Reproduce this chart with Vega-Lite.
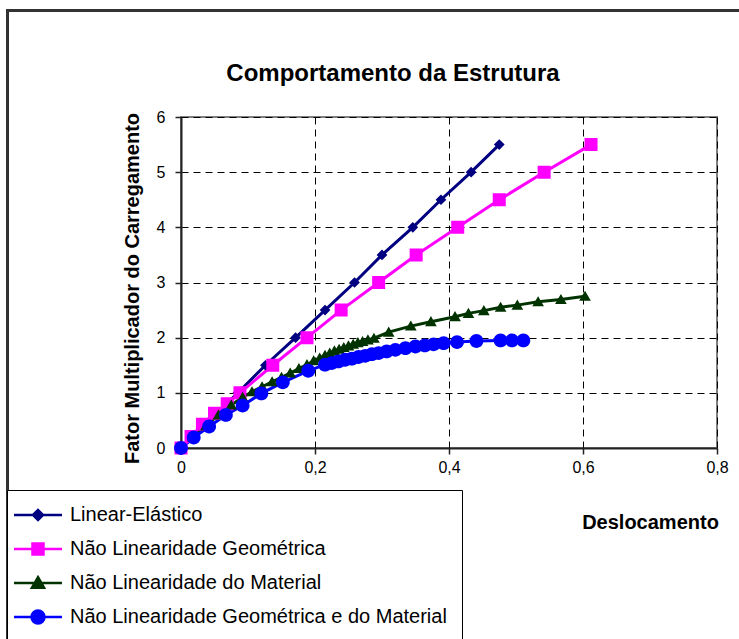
{
  "$schema": "https://vega.github.io/schema/vega-lite/v6.json",
  "width": 536,
  "height": 331,
  "autosize": "none",
  "padding": {"left": 181, "top": 117, "right": 22, "bottom": 191},
  "background": "white",
  "config": {
    "font": "Liberation Sans",
    "view": {"stroke": "#808080", "strokeWidth": 2},
    "axis": {
      "labelFont": "Liberation Sans", "titleFont": "Liberation Sans",
      "labelColor": "black", "titleColor": "black",
      "domainColor": "#222", "domainWidth": 2,
      "tickColor": "#222", "tickWidth": 1.5, "tickSize": 6,
      "gridColor": "black", "gridDash": [7, 5], "gridWidth": 1, "gridOpacity": 1,
      "labelFontSize": 16, "titleFontSize": 20, "titleFontWeight": "bold",
      "labelFlush": false
    }
  },
  "title": {
    "text": "Comportamento da Estrutura",
    "font": "Liberation Sans", "fontSize": 24, "fontWeight": "bold",
    "color": "black", "anchor": "middle", "dx": -56, "offset": -95, "baseline": "alphabetic"
  },
  "data": {
    "values": [
      {"serie": "Linear-Elástico", "d": 0, "f": 0},
      {"serie": "Linear-Elástico", "d": 0.017, "f": 0.2},
      {"serie": "Linear-Elástico", "d": 0.034, "f": 0.4},
      {"serie": "Linear-Elástico", "d": 0.051, "f": 0.6},
      {"serie": "Linear-Elástico", "d": 0.068, "f": 0.8},
      {"serie": "Linear-Elástico", "d": 0.085, "f": 1.0},
      {"serie": "Linear-Elástico", "d": 0.126, "f": 1.5},
      {"serie": "Linear-Elástico", "d": 0.171, "f": 2.0},
      {"serie": "Linear-Elástico", "d": 0.215, "f": 2.5},
      {"serie": "Linear-Elástico", "d": 0.259, "f": 3.0},
      {"serie": "Linear-Elástico", "d": 0.300, "f": 3.5},
      {"serie": "Linear-Elástico", "d": 0.346, "f": 4.0},
      {"serie": "Linear-Elástico", "d": 0.388, "f": 4.5},
      {"serie": "Linear-Elástico", "d": 0.433, "f": 5.0},
      {"serie": "Linear-Elástico", "d": 0.475, "f": 5.5},

      {"serie": "Não Linearidade Geométrica", "d": 0, "f": 0},
      {"serie": "Não Linearidade Geométrica", "d": 0.015, "f": 0.21},
      {"serie": "Não Linearidade Geométrica", "d": 0.032, "f": 0.43},
      {"serie": "Não Linearidade Geométrica", "d": 0.050, "f": 0.63},
      {"serie": "Não Linearidade Geométrica", "d": 0.069, "f": 0.8},
      {"serie": "Não Linearidade Geométrica", "d": 0.088, "f": 1.0},
      {"serie": "Não Linearidade Geométrica", "d": 0.137, "f": 1.5},
      {"serie": "Não Linearidade Geométrica", "d": 0.188, "f": 2.0},
      {"serie": "Não Linearidade Geométrica", "d": 0.239, "f": 2.5},
      {"serie": "Não Linearidade Geométrica", "d": 0.295, "f": 3.0},
      {"serie": "Não Linearidade Geométrica", "d": 0.351, "f": 3.5},
      {"serie": "Não Linearidade Geométrica", "d": 0.413, "f": 4.0},
      {"serie": "Não Linearidade Geométrica", "d": 0.475, "f": 4.5},
      {"serie": "Não Linearidade Geométrica", "d": 0.542, "f": 5.0},
      {"serie": "Não Linearidade Geométrica", "d": 0.612, "f": 5.5},

      {"serie": "Não Linearidade do Material", "d": 0, "f": 0},
      {"serie": "Não Linearidade do Material", "d": 0.018, "f": 0.2},
      {"serie": "Não Linearidade do Material", "d": 0.037, "f": 0.4},
      {"serie": "Não Linearidade do Material", "d": 0.056, "f": 0.6},
      {"serie": "Não Linearidade do Material", "d": 0.075, "f": 0.78},
      {"serie": "Não Linearidade do Material", "d": 0.092, "f": 0.92},
      {"serie": "Não Linearidade do Material", "d": 0.106, "f": 1.02},
      {"serie": "Não Linearidade do Material", "d": 0.121, "f": 1.11},
      {"serie": "Não Linearidade do Material", "d": 0.136, "f": 1.2},
      {"serie": "Não Linearidade do Material", "d": 0.150, "f": 1.28},
      {"serie": "Não Linearidade do Material", "d": 0.163, "f": 1.36},
      {"serie": "Não Linearidade do Material", "d": 0.176, "f": 1.44},
      {"serie": "Não Linearidade do Material", "d": 0.188, "f": 1.51},
      {"serie": "Não Linearidade do Material", "d": 0.198, "f": 1.58},
      {"serie": "Não Linearidade do Material", "d": 0.207, "f": 1.63},
      {"serie": "Não Linearidade do Material", "d": 0.215, "f": 1.68},
      {"serie": "Não Linearidade do Material", "d": 0.222, "f": 1.72},
      {"serie": "Não Linearidade do Material", "d": 0.229, "f": 1.76},
      {"serie": "Não Linearidade do Material", "d": 0.236, "f": 1.79},
      {"serie": "Não Linearidade do Material", "d": 0.243, "f": 1.82},
      {"serie": "Não Linearidade do Material", "d": 0.250, "f": 1.85},
      {"serie": "Não Linearidade do Material", "d": 0.257, "f": 1.88},
      {"serie": "Não Linearidade do Material", "d": 0.264, "f": 1.91},
      {"serie": "Não Linearidade do Material", "d": 0.271, "f": 1.93},
      {"serie": "Não Linearidade do Material", "d": 0.279, "f": 1.96},
      {"serie": "Não Linearidade do Material", "d": 0.288, "f": 1.99},
      {"serie": "Não Linearidade do Material", "d": 0.310, "f": 2.1},
      {"serie": "Não Linearidade do Material", "d": 0.343, "f": 2.21},
      {"serie": "Não Linearidade do Material", "d": 0.373, "f": 2.29},
      {"serie": "Não Linearidade do Material", "d": 0.409, "f": 2.38},
      {"serie": "Não Linearidade do Material", "d": 0.429, "f": 2.44},
      {"serie": "Não Linearidade do Material", "d": 0.452, "f": 2.49},
      {"serie": "Não Linearidade do Material", "d": 0.477, "f": 2.55},
      {"serie": "Não Linearidade do Material", "d": 0.502, "f": 2.59},
      {"serie": "Não Linearidade do Material", "d": 0.533, "f": 2.65},
      {"serie": "Não Linearidade do Material", "d": 0.567, "f": 2.69},
      {"serie": "Não Linearidade do Material", "d": 0.603, "f": 2.75},

      {"serie": "Não Linearidade Geométrica e do Material", "d": 0, "f": 0},
      {"serie": "Não Linearidade Geométrica e do Material", "d": 0.019, "f": 0.19},
      {"serie": "Não Linearidade Geométrica e do Material", "d": 0.042, "f": 0.39},
      {"serie": "Não Linearidade Geométrica e do Material", "d": 0.067, "f": 0.6},
      {"serie": "Não Linearidade Geométrica e do Material", "d": 0.092, "f": 0.77},
      {"serie": "Não Linearidade Geométrica e do Material", "d": 0.120, "f": 0.99},
      {"serie": "Não Linearidade Geométrica e do Material", "d": 0.152, "f": 1.19},
      {"serie": "Não Linearidade Geométrica e do Material", "d": 0.190, "f": 1.4},
      {"serie": "Não Linearidade Geométrica e do Material", "d": 0.215, "f": 1.51},
      {"serie": "Não Linearidade Geométrica e do Material", "d": 0.225, "f": 1.54},
      {"serie": "Não Linearidade Geométrica e do Material", "d": 0.235, "f": 1.57},
      {"serie": "Não Linearidade Geométrica e do Material", "d": 0.245, "f": 1.6},
      {"serie": "Não Linearidade Geométrica e do Material", "d": 0.255, "f": 1.62},
      {"serie": "Não Linearidade Geométrica e do Material", "d": 0.265, "f": 1.65},
      {"serie": "Não Linearidade Geométrica e do Material", "d": 0.275, "f": 1.67},
      {"serie": "Não Linearidade Geométrica e do Material", "d": 0.285, "f": 1.7},
      {"serie": "Não Linearidade Geométrica e do Material", "d": 0.295, "f": 1.72},
      {"serie": "Não Linearidade Geométrica e do Material", "d": 0.307, "f": 1.75},
      {"serie": "Não Linearidade Geométrica e do Material", "d": 0.320, "f": 1.78},
      {"serie": "Não Linearidade Geométrica e do Material", "d": 0.335, "f": 1.81},
      {"serie": "Não Linearidade Geométrica e do Material", "d": 0.350, "f": 1.84},
      {"serie": "Não Linearidade Geométrica e do Material", "d": 0.364, "f": 1.86},
      {"serie": "Não Linearidade Geométrica e do Material", "d": 0.377, "f": 1.88},
      {"serie": "Não Linearidade Geométrica e do Material", "d": 0.392, "f": 1.9},
      {"serie": "Não Linearidade Geométrica e do Material", "d": 0.412, "f": 1.92},
      {"serie": "Não Linearidade Geométrica e do Material", "d": 0.441, "f": 1.94},
      {"serie": "Não Linearidade Geométrica e do Material", "d": 0.477, "f": 1.95},
      {"serie": "Não Linearidade Geométrica e do Material", "d": 0.494, "f": 1.95},
      {"serie": "Não Linearidade Geométrica e do Material", "d": 0.511, "f": 1.95}
    ]
  },
  "layer": [
    {
      "mark": {"type": "rect", "fill": null, "fillOpacity": 0, "stroke": "#333", "strokeWidth": 2, "clip": false},
      "encoding": {
        "x": {"datum": -0.2593, "type": "quantitative", "scale": {"domain": [0, 0.8]}},
        "x2": {"datum": 0.9},
        "y": {"datum": 7.93, "type": "quantitative", "scale": {"domain": [0, 6]}},
        "y2": {"datum": -4}
      }
    },
    {
      "mark": {"type": "line", "strokeWidth": 3},
      "encoding": {
        "x": {
          "field": "d", "type": "quantitative",
          "scale": {"domain": [0, 0.8], "nice": false, "zero": true},
          "axis": {
            "values": [0, 0.2, 0.4, 0.6, 0.8],
            "format": ".1~f",
            "labelExpr": "replace(datum.label, '.', ',')",
            "labelPadding": 5,
            "title": "Deslocamento",
            "titleX": 469, "titleY": 74, "titleAlign": "center", "titleBaseline": "middle",
            "grid": true
          }
        },
        "y": {
          "field": "f", "type": "quantitative",
          "scale": {"domain": [0, 6], "nice": false},
          "axis": {
            "values": [0, 1, 2, 3, 4, 5, 6],
            "format": "d",
            "labelPadding": 10,
            "title": "Fator Multiplicador do Carregamento",
            "titleX": -48.5, "titleY": 171, "titleAlign": "center", "titleBaseline": "middle", "titleAngle": -90,
            "grid": true
          }
        },
        "color": {
          "field": "serie", "type": "nominal",
          "scale": {
            "domain": ["Linear-Elástico", "Não Linearidade Geométrica", "Não Linearidade do Material", "Não Linearidade Geométrica e do Material"],
            "range": ["#000080", "#FF00FF", "#003300", "#0000FF"]
          },
          "legend": {
            "orient": "none",
            "legendX": -174,
            "legendY": 373,
            "title": null,
            "padding": 15,
            "strokeColor": "black",
            "fillColor": "white",
            "symbolSize": 121,
            "symbolOffset": 6,
            "symbolStrokeWidth": 2.5,
            "symbolOpacity": 1,
            "labelFont": "Liberation Sans",
            "labelFontSize": 20,
            "labelColor": "black",
            "labelOffset": 22,
            "rowPadding": 12,
            "labelLimit": 500
          }
        },
        "detail": {"field": "serie"}
      }
    },
    {
      "mark": {"type": "point", "filled": true, "opacity": 1},
      "encoding": {
        "x": {"field": "d", "type": "quantitative"},
        "y": {"field": "f", "type": "quantitative"},
        "color": {"field": "serie", "type": "nominal"},
        "shape": {
          "field": "serie", "type": "nominal",
          "scale": {
            "domain": ["Linear-Elástico", "Não Linearidade Geométrica", "Não Linearidade do Material", "Não Linearidade Geométrica e do Material"],
            "range": [
              "M-4.36,0H4.36M-0.91,0L0,-0.91L0.91,0L0,0.91Z",
              "M-4.36,0H4.36M-1,-1H1V1H-1Z",
              "M-4.36,0H4.36M0,-1.05L1.1,0.85H-1.1Z",
              "M-4.36,0H4.36M-1.18,0A1.18,1.18 0 1,0 1.18,0A1.18,1.18 0 1,0 -1.18,0Z"
            ]
          },
          "legend": null
        },
        "size": {
          "condition": [
            {"test": "datum.serie === 'Linear-Elástico'", "value": 139},
            {"test": "datum.serie === 'Não Linearidade Geométrica'", "value": 169},
            {"test": "datum.serie === 'Não Linearidade do Material'", "value": 113}
          ],
          "value": 137
        }
      }
    }
  ]
}
